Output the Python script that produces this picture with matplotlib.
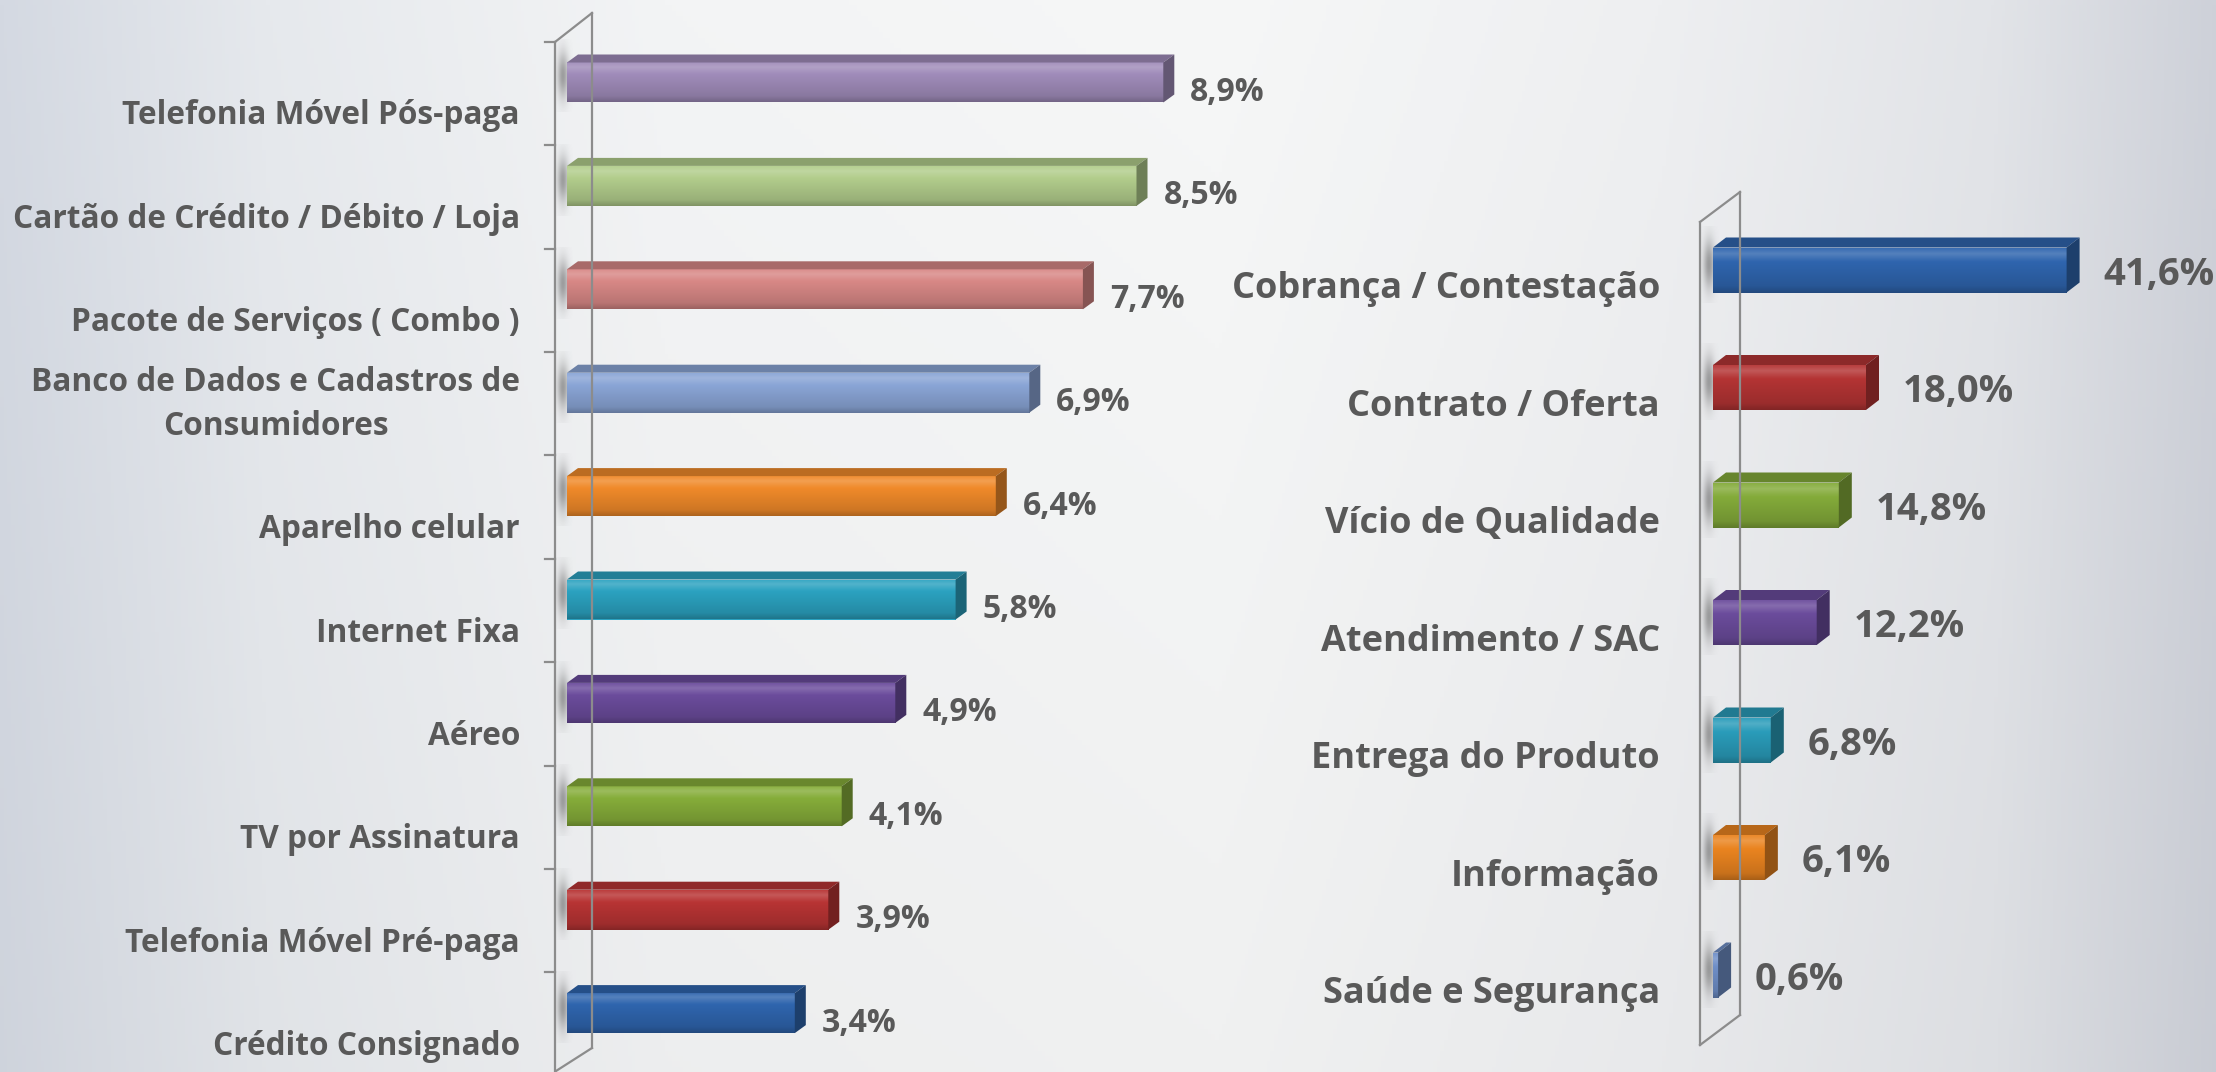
import matplotlib
matplotlib.use("Agg")
import matplotlib.pyplot as plt
import matplotlib.transforms as mtransforms
from matplotlib.colors import LinearSegmentedColormap, to_rgb
from matplotlib.patches import Polygon
from matplotlib.lines import Line2D
import numpy as np

# data
left_cats = [
    "Telefonia Móvel Pós-paga",
    "Cartão de Crédito / Débito / Loja",
    "Pacote de Serviços ( Combo )",
    "Banco de Dados e Cadastros de\nConsumidores",
    "Aparelho celular",
    "Internet Fixa",
    "Aéreo",
    "TV por Assinatura",
    "Telefonia Móvel Pré-paga",
    "Crédito Consignado",
]
left_vals = [8.9, 8.5, 7.7, 6.9, 6.4, 5.8, 4.9, 4.1, 3.9, 3.4]

right_cats = [
    "Cobrança / Contestação",
    "Contrato / Oferta",
    "Vício de Qualidade",
    "Atendimento / SAC",
    "Entrega do Produto",
    "Informação",
    "Saúde e Segurança",
]
right_vals = [41.6, 18.0, 14.8, 12.2, 6.8, 6.1, 0.6]

# styles
left_colors = ["#a08cba", "#b2cd8c", "#d88886", "#8aa5d6", "#f08a2a",
               "#2ba2c0", "#6b4c9c", "#86ad3a", "#b83434", "#2f65ae"]
right_colors = ["#2f65ae", "#b43434", "#84ab3a", "#6b4c9c", "#2a9cba",
                "#ea8420", "#6f8fc8"]

TEXT = "#595959"
WALL = "#8c8c8c"
W, H, DPI = 2216, 1072, 100

plt.rcParams["font.family"] = ["Open Sans", "DejaVu Sans"]
plt.rcParams["font.weight"] = "bold"


def shade(c, f):
    r = np.array(to_rgb(c))
    if f >= 1:
        return tuple(r + (1 - r) * (f - 1))
    return tuple(r * f)


def fpos(px, py):
    return px / W, 1 - py / H


fig = plt.figure(figsize=(W / DPI, H / DPI), dpi=DPI)

# background gradient
bg = fig.add_axes([0, 0, 1, 1], zorder=-10)
stops_x = [0.0, 0.12, 0.3, 0.55, 0.75, 0.9, 1.0]
stops_c = np.array([(212, 217, 226), (230, 233, 237), (243, 244, 245),
                    (246, 247, 247), (238, 239, 241), (226, 228, 232),
                    (206, 209, 217)]) / 255
xs = np.linspace(0, 1, 600)
row = np.stack([np.interp(xs, stops_x, stops_c[:, k]) for k in range(3)], axis=1)
ys = np.linspace(0, 1, 200)[:, None, None]
img = row[None, :, :] * (1 - 0.025 * ys)
bg.imshow(img, extent=(0, 1, 0, 1), aspect="auto", origin="upper")
bg.set_axis_off()

# soft shadow blob
gx = np.linspace(-1, 1, 40)[None, :]
gy = np.linspace(-1, 1, 80)[:, None]
blob = np.zeros((80, 40, 4))
blob[..., :3] = 0.35
blob[..., 3] = 0.55 * np.exp(-(gx ** 2) * 3 - (gy ** 2) * 2.5)


def draw_chart(cats, vals, colors, x0_px, ppu, xmax, top_px, step_px, bar_px,
               dx_px, dy_px, gap_px, vsize, vdrop):
    n = len(cats)
    y_top = top_px - step_px / 2
    y_bot = top_px + step_px * (n - 0.5)
    l, b = fpos(x0_px, y_bot)
    ax = fig.add_axes([l, b, xmax * ppu / W, (y_bot - y_top) / H])
    ax.set_xlim(0, xmax)
    ax.set_ylim(n - 0.5, -0.5)
    ax.set_axis_off()

    bars = ax.barh(range(n), vals, height=bar_px / step_px, color=colors,
                   edgecolor="none", zorder=3, clip_on=False)
    ddx = dx_px / ppu
    ddy = dy_px / step_px
    grad = np.linspace(0, 1, 100).reshape(-1, 1)
    for bar, c in zip(bars, colors):
        x, y, w, h = bar.get_x(), bar.get_y(), bar.get_width(), bar.get_height()
        yt, yb = y, y + h
        # shadow near the wall
        ax.imshow(blob, extent=(x - 14 / ppu, x + 6 / ppu, yb + 10 / step_px,
                                yt - 22 / step_px),
                  aspect="auto", origin="upper", zorder=2, clip_on=False)
        cmap = LinearSegmentedColormap.from_list(
            "f", [(0, shade(c, 1.05)), (0.12, shade(c, 1.18)),
                  (0.3, c), (0.85, shade(c, 0.86)), (1, shade(c, 0.72))])
        im = ax.imshow(grad, extent=(x, x + w, yb, yt), aspect="auto",
                       cmap=cmap, origin="upper", zorder=3.1)
        im.set_clip_path(bar)
        ax.add_patch(Polygon([(x, yt), (x + ddx, yt - ddy), (x + w + ddx, yt - ddy),
                              (x + w, yt)], closed=True, fc=shade(c, 0.78),
                             ec="none", zorder=3.2, clip_on=False))
        ax.add_patch(Polygon([(x + w, yt), (x + w + ddx, yt - ddy),
                              (x + w + ddx, yb - ddy), (x + w, yb)], closed=True,
                             fc=shade(c, 0.62), ec="none", zorder=3.2,
                             clip_on=False))
    for i, v in enumerate(vals):
        ax.text(v + ddx + gap_px / ppu, i + vdrop / step_px,
                f"{v:.1f}".replace(".", ",") + "%",
                ha="left", va="center_baseline", fontsize=vsize,
                color=TEXT, fontweight="bold", zorder=5, clip_on=False)
    ax.set_xlim(0, xmax)
    ax.set_ylim(n - 0.5, -0.5)
    return ax


# left chart
axl = draw_chart(left_cats, left_vals, left_colors, x0_px=567, ppu=67, xmax=10,
                 top_px=82.5, step_px=103.4, bar_px=40, dx_px=11, dy_px=8,
                 gap_px=16, vsize=23, vdrop=6)
lab_off = mtransforms.ScaledTranslation(0, -42 / DPI, fig.dpi_scale_trans)
for i, name in enumerate(left_cats):
    axl.text(-47 / 67, i, name, ha="right", va="baseline", multialignment="center",
             fontsize=22.8, color=TEXT, fontweight="bold",
             transform=axl.transData + lab_off, clip_on=False,
             linespacing=1.42)

# left wall
for xs_, ys_ in [([555, 555], [42, 1090]), ([592, 592], [13, 1048]),
                 ([555, 592], [42, 13]), ([556, 592], [1071, 1048])]:
    p = [fpos(a, c) for a, c in zip(xs_, ys_)]
    fig.add_artist(Line2D([q[0] for q in p], [q[1] for q in p],
                          transform=fig.transFigure, color=WALL, lw=1.6, zorder=1))
tick_off = mtransforms.ScaledTranslation(0, -11 / DPI, fig.dpi_scale_trans)
for i in range(len(left_cats)):
    axl.plot([-22 / 67, -12 / 67], [i - 0.5, i - 0.5], color=WALL, lw=1.6,
             transform=axl.transData + tick_off, clip_on=False, zorder=1)

# right chart
axr = draw_chart(right_cats, right_vals, right_colors, x0_px=1713, ppu=8.5,
                 xmax=45, top_px=270, step_px=117.5, bar_px=45, dx_px=13,
                 dy_px=10, gap_px=24, vsize=27.5, vdrop=0)
lab_off_r = mtransforms.ScaledTranslation(0, -28 / DPI, fig.dpi_scale_trans)
for i, name in enumerate(right_cats):
    axr.text(-53 / 8.5, i, name, ha="right", va="baseline", fontsize=26,
             color=TEXT, fontweight="bold",
             transform=axr.transData + lab_off_r, clip_on=False)

for xs_, ys_ in [([1700, 1700], [222, 1045]), ([1740, 1740], [192, 1015]),
                 ([1700, 1740], [222, 192]), ([1700, 1740], [1045, 1015])]:
    p = [fpos(a, c) for a, c in zip(xs_, ys_)]
    fig.add_artist(Line2D([q[0] for q in p], [q[1] for q in p],
                          transform=fig.transFigure, color=WALL, lw=1.6, zorder=1))

fig.savefig("out.png", dpi=DPI)
